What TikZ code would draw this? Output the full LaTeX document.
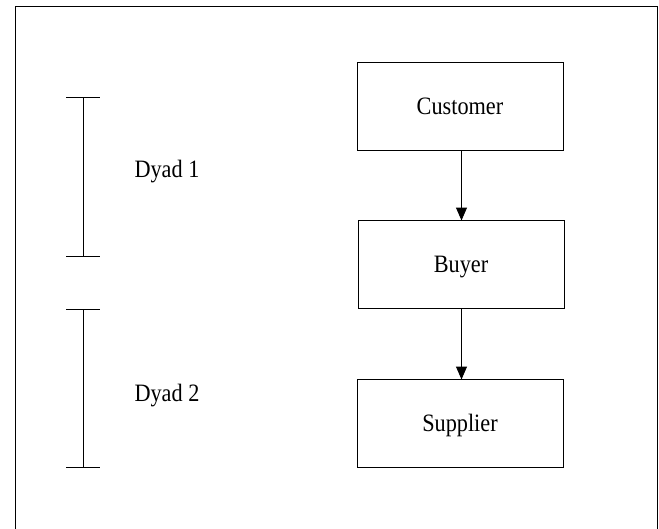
\documentclass[tikz,border=0pt]{standalone}
\usepackage{fontspec}
\setmainfont{Liberation Serif}[FakeStretch=0.89]
\usetikzlibrary{arrows.meta}
\begin{document}
\begin{tikzpicture}[x=1pt,y=-1pt,
  line width=1pt,
  box/.style={draw, rectangle, inner sep=0pt, minimum width=206pt, minimum height=88pt,
    font=\fontsize{25}{27}\selectfont, text height=16.7pt, text depth=0pt},
  lbl/.style={anchor=base west, inner sep=0pt, font=\fontsize{25}{27}\selectfont},
  arr/.style={-{Triangle[length=13pt,width=11pt]}}]
\useasboundingbox (0,0) rectangle (659,528);
\draw (15.5,6) rectangle (657.5,560);
\node[box] (customer) at (460,106) {Customer};
\node[box] (buyer) at (461,264.5) {Buyer};
\node[box] (supplier) at (460,423.5) {Supplier};
\coordinate (c1) at (461.5,150);
\coordinate (b1) at (461.5,220.5);
\coordinate (b2) at (461.5,308.5);
\coordinate (s1) at (461.5,379.5);
\draw[arr] (c1) -- (b1);
\draw[arr] (b2) -- (s1);
% Dyad bars
\draw (66,97) -- (100,97) (83,97) -- (83,256) (66,256) -- (100,256);
\draw (66,309) -- (100,309) (83,309) -- (83,467) (66,467) -- (100,467);
\node[lbl] (d1) at (134,177.5) {Dyad 1};
\node[lbl] (d2) at (134,401.7) {Dyad 2};
\end{tikzpicture}
\end{document}
